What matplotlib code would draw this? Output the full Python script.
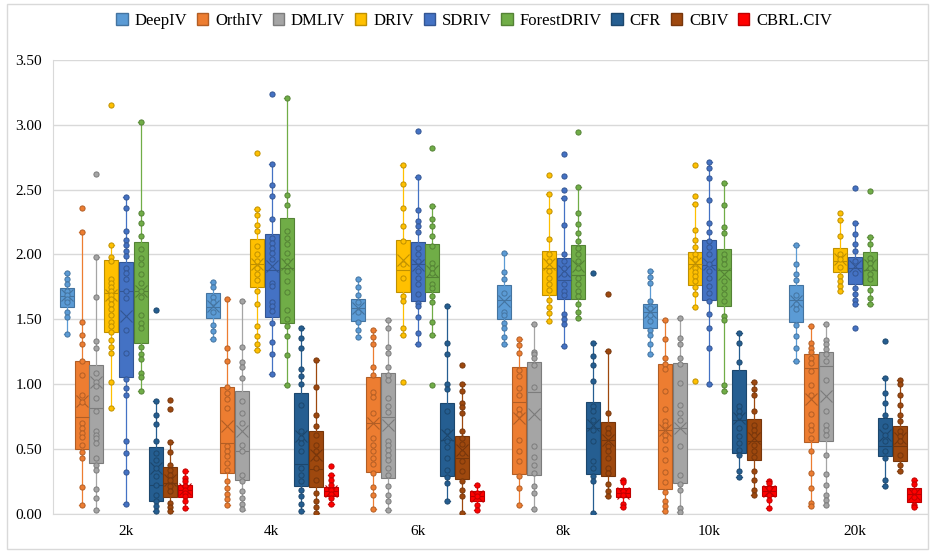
import numpy as np
import matplotlib.pyplot as plt
from matplotlib.colors import to_rgb
from matplotlib.patches import Patch, Rectangle

plt.rcParams['font.family'] = ['Liberation Serif', 'DejaVu Serif']

groups = ['2k', '4k', '6k', '8k', '10k', '20k']
methods = ['DeepIV', 'OrthIV', 'DMLIV', 'DRIV', 'SDRIV', 'ForestDRIV', 'CFR', 'CBIV', 'CBRL.CIV']
colors = ['#5B9BD5', '#ED7D31', '#A5A5A5', '#FFC000', '#4472C4', '#70AD47', '#255E91', '#9E480E', '#FF0000']

# box per group: (whisker low, q1, median, q3, whisker high, mean)
deepiv_box = [(1.39, 1.595, 1.68, 1.74, 1.86, 1.69), (1.35, 1.51, 1.595, 1.706, 1.79, 1.60),
              (1.36, 1.49, 1.59, 1.66, 1.81, 1.59), (1.31, 1.50, 1.65, 1.765, 2.015, 1.64),
              (1.235, 1.43, 1.56, 1.62, 1.87, 1.56), (1.18, 1.48, 1.65, 1.765, 2.07, 1.64)]
deepiv_pts = [[1.86, 1.81, 1.77, 1.72, 1.69, 1.66, 1.63, 1.56, 1.52, 1.39],
              [1.79, 1.75, 1.67, 1.63, 1.56, 1.46, 1.41, 1.35],
              [1.81, 1.75, 1.69, 1.63, 1.56, 1.48, 1.42, 1.36],
              [2.015, 1.865, 1.81, 1.70, 1.56, 1.53, 1.47, 1.435, 1.36, 1.31],
              [1.87, 1.83, 1.78, 1.64, 1.59, 1.53, 1.49, 1.415, 1.38, 1.31, 1.235],
              [2.07, 1.93, 1.85, 1.80, 1.69, 1.62, 1.58, 1.46, 1.37, 1.28, 1.18]]

orthiv_box = [(0.07, 0.50, 0.75, 1.175, 2.17, 0.87), (0.066, 0.315, 0.547, 0.98, 1.654, 0.676),
              (0.037, 0.323, 0.70, 1.054, 1.415, 0.70), (0.07, 0.31, 0.861, 1.131, 1.345, 0.74),
              (0.025, 0.192, 0.65, 1.157, 1.492, 0.65), (0.058, 0.555, 1.121, 1.229, 1.448, 0.889)]
orthiv_pts = [[2.36, 2.17, 1.48, 1.38, 1.31, 1.175, 1.07, 0.92, 0.86, 0.70, 0.66, 0.62, 0.59, 0.53, 0.475, 0.43, 0.21, 0.07],
              [1.654, 1.28, 1.18, 0.98, 0.933, 0.882, 0.817, 0.521, 0.483, 0.444, 0.393, 0.341, 0.25, 0.20, 0.156, 0.118, 0.066],
              [1.415, 1.36, 1.31, 1.13, 1.07, 0.941, 0.90, 0.779, 0.586, 0.529, 0.483, 0.431, 0.385, 0.315, 0.205, 0.148, 0.037],
              [1.345, 1.30, 1.24, 1.106, 1.062, 0.972, 0.915, 0.812, 0.771, 0.573, 0.483, 0.41, 0.29, 0.20, 0.07],
              [1.492, 1.35, 1.20, 1.152, 1.114, 0.951, 0.81, 0.714, 0.689, 0.611, 0.573, 0.503, 0.418, 0.323, 0.246, 0.166, 0.10, 0.063, 0.025],
              [1.448, 1.32, 1.28, 1.25, 1.204, 1.165, 1.101, 0.993, 0.92, 0.771, 0.689, 0.65, 0.586, 0.488, 0.315, 0.20, 0.083, 0.058]]

dmliv_box = [(0.03, 0.39, 0.82, 1.145, 1.98, 1.02), (0.03, 0.264, 0.488, 0.95, 1.64, 0.637),
             (0.027, 0.277, 0.745, 1.083, 1.497, 0.689), (0.037, 0.297, 0.941, 1.173, 1.461, 0.771),
             (0.014, 0.238, 0.663, 1.165, 1.507, 0.663), (0.07, 0.56, 1.139, 1.25, 1.466, 0.907)]
dmliv_pts = [[2.62, 1.98, 1.67, 1.33, 1.28, 1.09, 1.02, 0.985, 0.895, 0.79, 0.64, 0.61, 0.585, 0.55, 0.43, 0.38, 0.34, 0.19, 0.12, 0.03],
             [1.64, 1.29, 1.17, 1.13, 1.045, 0.869, 0.779, 0.702, 0.534, 0.483, 0.303, 0.25, 0.18, 0.12, 0.076, 0.04],
             [1.497, 1.43, 1.29, 1.24, 1.13, 1.07, 1.036, 0.89, 0.83, 0.787, 0.565, 0.529, 0.496, 0.457, 0.418, 0.354, 0.303, 0.212, 0.143, 0.097, 0.027],
             [1.461, 1.25, 1.23, 1.20, 1.147, 0.982, 0.521, 0.436, 0.374, 0.315, 0.212, 0.161, 0.037],
             [1.507, 1.353, 1.307, 1.204, 1.157, 1.011, 0.843, 0.779, 0.727, 0.521, 0.303, 0.23, 0.182, 0.045, 0.014],
             [1.466, 1.34, 1.31, 1.268, 1.229, 1.178, 1.036, 0.797, 0.689, 0.65, 0.611, 0.457, 0.308, 0.225, 0.148, 0.109, 0.07]]

driv_box = [(0.82, 1.405, 1.705, 1.955, 2.07, 1.69), (1.26, 1.75, 1.93, 2.12, 2.35, 1.925),
            (1.38, 1.71, 1.88, 2.11, 2.69, 1.958), (1.487, 1.688, 1.894, 2.025, 2.47, 1.925),
            (1.595, 1.765, 1.93, 2.022, 2.388, 1.937), (1.719, 1.865, 1.95, 2.048, 2.264, 1.963)]
driv_pts = [[3.155, 2.07, 1.98, 1.95, 1.81, 1.783, 1.75, 1.719, 1.688, 1.654, 1.616, 1.577, 1.533, 1.482, 1.448, 1.405, 1.34, 1.29, 1.24, 1.02, 0.82],
            [2.78, 2.35, 2.305, 2.23, 2.18, 2.066, 2.002, 1.95, 1.899, 1.852, 1.801, 1.72, 1.615, 1.45, 1.37, 1.31, 1.26],
            [2.69, 2.54, 2.36, 2.22, 2.105, 1.925, 1.822, 1.68, 1.64, 1.43, 1.38, 1.016],
            [2.611, 2.47, 2.332, 2.118, 2.002, 1.95, 1.873, 1.822, 1.77, 1.724, 1.647, 1.598, 1.548, 1.487],
            [2.692, 2.447, 2.388, 2.187, 2.11, 2.058, 2.002, 1.963, 1.899, 1.868, 1.834, 1.796, 1.75, 1.698, 1.595, 1.023],
            [2.323, 2.264, 2.143, 2.005, 1.967, 1.903, 1.834, 1.796, 1.757, 1.719]]

sdriv_box = [(0.075, 1.055, 1.72, 1.94, 2.44, 1.525), (1.08, 1.52, 1.88, 2.16, 2.70, 1.91),
             (1.307, 1.642, 1.925, 2.10, 2.594, 1.92), (1.294, 1.654, 1.80, 1.976, 2.437, 1.873),
             (0.998, 1.647, 1.92, 2.113, 2.714, 1.925), (1.616, 1.775, 1.894, 1.981, 2.246, 1.91)]
sdriv_pts = [[2.44, 2.36, 2.18, 2.11, 2.075, 2.03, 1.99, 1.899, 1.86, 1.809, 1.719, 1.667, 1.42, 1.24, 1.04, 0.97, 0.915, 0.565, 0.47, 0.32, 0.075],
             [3.235, 2.70, 2.535, 2.45, 2.275, 2.13, 2.092, 2.053, 2.014, 1.963, 1.783, 1.757, 1.636, 1.603, 1.564, 1.474, 1.327, 1.235, 1.08],
             [2.95, 2.594, 2.342, 2.26, 2.221, 2.177, 2.053, 2.002, 1.95, 1.873, 1.822, 1.77, 1.693, 1.626, 1.603, 1.52, 1.394, 1.307],
             [2.774, 2.602, 2.499, 2.437, 2.23, 2.002, 1.95, 1.899, 1.847, 1.77, 1.719, 1.688, 1.543, 1.50, 1.466, 1.294],
             [2.714, 2.666, 2.589, 2.422, 2.239, 2.177, 2.105, 2.058, 2.007, 1.925, 1.873, 1.822, 1.757, 1.706, 1.641, 1.544, 1.436, 1.276, 0.998],
             [2.509, 2.246, 2.161, 2.084, 2.027, 1.95, 1.86, 1.739, 1.693, 1.647, 1.616, 1.43]]

forest_box = [(0.95, 1.32, 1.72, 2.10, 3.02, 1.72), (0.99, 1.47, 1.894, 2.28, 3.207, 1.925),
              (1.38, 1.71, 1.83, 2.084, 2.37, 1.873), (1.512, 1.654, 1.842, 2.071, 2.522, 1.91),
              (0.95, 1.60, 1.878, 2.04, 2.548, 1.847), (1.616, 1.762, 1.88, 2.02, 2.138, 1.92)]
forest_pts = [[3.02, 2.32, 2.24, 2.14, 2.04, 1.976, 1.93, 1.852, 1.783, 1.719, 1.672, 1.533, 1.474, 1.43, 1.29, 1.235, 1.195, 1.09, 1.057, 0.95],
              [3.207, 2.46, 2.38, 2.182, 2.13, 2.079, 2.014, 1.95, 1.873, 1.796, 1.711, 1.569, 1.505, 1.45, 1.37, 1.224, 0.99],
              [2.818, 2.37, 2.277, 2.22, 2.14, 2.066, 1.937, 1.899, 1.86, 1.775, 1.739, 1.68, 1.636, 1.482, 1.38, 0.99],
              [2.944, 2.522, 2.316, 2.233, 2.169, 2.105, 2.053, 2.002, 1.95, 1.899, 1.822, 1.77, 1.719, 1.68, 1.62, 1.56, 1.512],
              [2.548, 2.38, 2.208, 2.164, 2.002, 1.963, 1.925, 1.796, 1.744, 1.698, 1.641, 1.525, 1.492, 0.99, 0.95],
              [2.486, 2.138, 2.084, 1.976, 1.937, 1.899, 1.852, 1.809, 1.726, 1.662, 1.616]]

cfr_box = [(0.02, 0.097, 0.225, 0.516, 0.87, 0.354), (0.025, 0.212, 0.385, 0.933, 1.43, 0.60),
           (0.102, 0.295, 0.57, 0.856, 1.603, 0.611), (0.01, 0.31, 0.663, 0.864, 1.32, 0.689),
           (0.284, 0.47, 0.727, 1.111, 1.397, 0.74), (0.212, 0.444, 0.521, 0.74, 1.044, 0.611)]
cfr_pts = [[1.575, 0.87, 0.76, 0.69, 0.56, 0.47, 0.418, 0.354, 0.29, 0.225, 0.148, 0.097, 0.06, 0.02],
           [1.43, 1.358, 1.28, 1.12, 1.067, 1.003, 0.843, 0.637, 0.586, 0.547, 0.483, 0.354, 0.303, 0.251, 0.187, 0.135, 0.076, 0.025],
           [1.603, 1.32, 1.23, 0.998, 0.96, 0.797, 0.637, 0.565, 0.514, 0.431, 0.341, 0.282, 0.238, 0.102],
           [1.855, 1.32, 1.221, 1.147, 1.023, 0.83, 0.792, 0.727, 0.65, 0.56, 0.405, 0.354, 0.29, 0.256, 0.01],
           [1.397, 1.314, 1.173, 0.83, 0.792, 0.753, 0.663, 0.599, 0.547, 0.496, 0.457, 0.333, 0.284],
           [1.332, 1.044, 0.933, 0.856, 0.766, 0.676, 0.611, 0.56, 0.483, 0.431, 0.264, 0.212]]

cbiv_box = [(0.025, 0.127, 0.24, 0.36, 0.555, 0.264), (0.006, 0.207, 0.346, 0.642, 1.19, 0.457),
            (0.006, 0.271, 0.43, 0.604, 0.998, 0.496), (0.135, 0.295, 0.573, 0.707, 1.255, 0.573),
            (0.143, 0.418, 0.56, 0.733, 1.016, 0.586), (0.333, 0.405, 0.521, 0.676, 1.036, 0.586)]
cbiv_pts = [[0.877, 0.81, 0.555, 0.475, 0.38, 0.341, 0.303, 0.264, 0.212, 0.174, 0.084, 0.05, 0.025],
            [1.19, 0.977, 0.766, 0.676, 0.611, 0.534, 0.483, 0.431, 0.354, 0.264, 0.16, 0.10, 0.05, 0.006],
            [1.147, 0.998, 0.951, 0.856, 0.823, 0.779, 0.642, 0.586, 0.539, 0.47, 0.405, 0.328, 0.251, 0.187, 0.135, 0.006],
            [1.693, 1.255, 0.779, 0.663, 0.624, 0.521, 0.483, 0.431, 0.354, 0.315, 0.23, 0.174, 0.135],
            [1.016, 0.964, 0.92, 0.792, 0.689, 0.65, 0.611, 0.529, 0.483, 0.436, 0.333, 0.264, 0.182, 0.143],
            [1.036, 0.998, 0.92, 0.843, 0.766, 0.714, 0.637, 0.599, 0.56, 0.457, 0.38, 0.333]]

cbrl_box = [(0.045, 0.127, 0.187, 0.225, 0.334, 0.19), (0.078, 0.135, 0.174, 0.205, 0.303, 0.18),
            (0.027, 0.10, 0.14, 0.179, 0.22, 0.14), (0.053, 0.127, 0.161, 0.20, 0.264, 0.165),
            (0.045, 0.14, 0.179, 0.212, 0.256, 0.18), (0.05, 0.091, 0.153, 0.20, 0.264, 0.155)]
cbrl_pts = [[0.334, 0.28, 0.251, 0.212, 0.187, 0.161, 0.135, 0.097, 0.045],
            [0.367, 0.303, 0.264, 0.225, 0.187, 0.156, 0.122, 0.078],
            [0.22, 0.161, 0.135, 0.07, 0.027],
            [0.264, 0.246, 0.179, 0.148, 0.078, 0.053],
            [0.256, 0.238, 0.20, 0.148, 0.109, 0.045],
            [0.264, 0.231, 0.179, 0.127, 0.07, 0.05]]

all_box = [deepiv_box, orthiv_box, dmliv_box, driv_box, sdriv_box, forest_box, cfr_box, cbiv_box, cbrl_box]
all_pts = [deepiv_pts, orthiv_pts, dmliv_pts, driv_pts, sdriv_pts, forest_pts, cfr_pts, cbiv_pts, cbrl_pts]


def shade(c, f):
    r, g, b = to_rgb(c)
    return (r * f, g * f, b * f)


fig = plt.figure(figsize=(9.3, 5.52), dpi=100)
ax = fig.add_axes([0.057, 0.069, 0.941, 0.8225])

step = 0.1015
width = 0.096
x0 = np.arange(len(groups))
for i, (name, c) in enumerate(zip(methods, colors)):
    pos = x0 + (i - 4) * step
    dark = shade(c, 0.75)
    stats = []
    for lo, q1, med, q3, hi, mean in all_box[i]:
        stats.append(dict(whislo=lo, q1=q1, med=med, q3=q3, whishi=hi, mean=mean, fliers=[]))
    ax.bxp(stats, positions=pos, widths=width, patch_artist=True, showmeans=True,
           showfliers=False, manage_ticks=False, capwidths=0.035,
           boxprops=dict(facecolor=c, edgecolor=dark, linewidth=0.8),
           medianprops=dict(color=dark, linewidth=0.8),
           whiskerprops=dict(color=c, linewidth=0.9),
           capprops=dict(color=c, linewidth=0.9),
           meanprops=dict(marker='x', markeredgecolor=dark, markersize=8, markeredgewidth=0.8))
    for p, vals in zip(pos, all_pts[i]):
        ax.scatter(np.full(len(vals), p), vals, s=14, facecolor=c, edgecolor=dark,
                   linewidth=0.7, zorder=4)

ax.set_xlim(-0.5, len(groups) - 0.5)
ax.set_ylim(0, 3.5)
ax.set_yticks(np.arange(0, 3.51, 0.5))
ax.set_yticklabels(['%.2f' % v for v in np.arange(0, 3.51, 0.5)], fontsize=11)
ax.set_xticks(x0)
ax.set_xticklabels(groups, fontsize=11)
ax.tick_params(length=0, pad=8)
ax.grid(axis='y', color='#d9d9d9', linewidth=1)
ax.set_axisbelow(True)
for s in ['top', 'right']:
    ax.spines[s].set_visible(False)
ax.spines['left'].set_color('#d9d9d9')
ax.spines['bottom'].set_color('#d9d9d9')

handles = [Patch(facecolor=c, edgecolor=shade(c, 0.75)) for c in colors]
fig.legend(handles, methods, loc='center', bbox_to_anchor=(0.51, 0.962), ncol=9,
           frameon=False, fontsize=12, handlelength=0.68, handleheight=0.68,
           handletextpad=0.42, columnspacing=0.58)

fig.patches.append(Rectangle((7 / 930, 3 / 552), 921 / 930, 545 / 552, transform=fig.transFigure,
                             fill=False, edgecolor='#d9d9d9', linewidth=1))

fig.savefig('out.png', dpi=100)
